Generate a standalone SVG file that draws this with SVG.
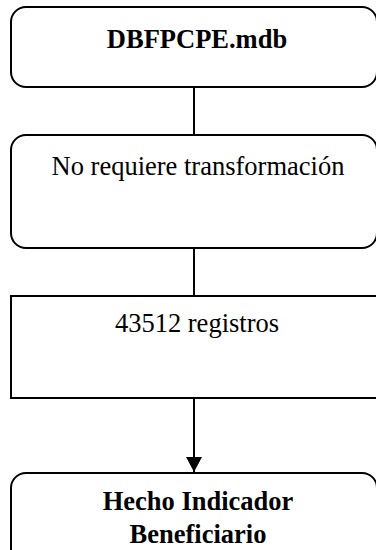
<svg xmlns="http://www.w3.org/2000/svg" width="376" height="550" viewBox="0 0 376 550">
<style>
.box{fill:#fff;stroke:#000;stroke-width:2}
.t{font-family:"Liberation Serif","Times New Roman",serif;font-size:26.5px;fill:#000;text-anchor:middle}
.b{font-weight:bold}
.c{stroke:#000;stroke-width:2;fill:none}
</style>
<defs>
<marker id="ah" markerWidth="16" markerHeight="16" refX="15" refY="8" orient="auto" markerUnits="userSpaceOnUse">
<path d="M0,0 L15,8 L0,16 Z" fill="#000"/>
</marker>
</defs>
<g id="connectors">
<line class="c" x1="194" y1="87" x2="194" y2="135"/>
<line class="c" x1="194" y1="248" x2="194" y2="296"/>
<line class="c" x1="194" y1="398" x2="194" y2="472" marker-end="url(#ah)"/>
</g>
<g id="n1">
<rect class="box" x="11" y="7" width="366" height="80" rx="15" ry="15"/>
<text class="t b" x="197" y="48">DBFPCPE.mdb</text>
</g>
<g id="n2">
<rect class="box" x="11" y="135" width="366" height="113" rx="15" ry="15"/>
<text class="t" x="198" y="175">No requiere transformación</text>
</g>
<g id="n3">
<rect class="box" x="11" y="296" width="366" height="102"/>
<text class="t" x="197" y="332">43512 registros</text>
</g>
<g id="n4">
<rect class="box" x="11" y="473" width="366" height="100" rx="15" ry="15"/>
<text class="t b" x="198" y="510">Hecho Indicador</text>
<text class="t b" x="198" y="543">Beneficiario</text>
</g>
</svg>
